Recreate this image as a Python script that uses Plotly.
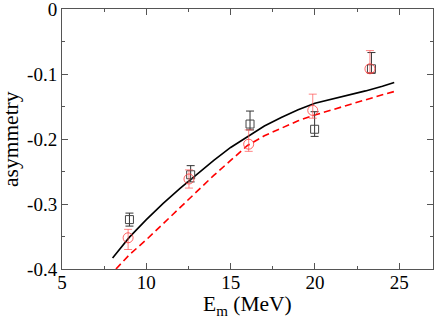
import plotly.graph_objects as go

# experimental points
sq_x = [9.0, 12.63, 16.15, 19.98, 23.35]
sq_y = [-0.324, -0.255, -0.177, -0.185, -0.092]
sq_err_plus = [0.010, 0.014, 0.020, 0.027, 0.025]
sq_err_minus = [0.010, 0.011, 0.009, 0.011, 0.007]

ci_x = [8.92, 12.53, 16.07, 19.87, 23.26]
ci_y = [-0.352, -0.2615, -0.208, -0.156, -0.092]
ci_err_plus = [0.013, 0.014, 0.022, 0.025, 0.028]
ci_err_minus = [0.018, 0.014, 0.011, 0.012, 0.006]

# theory curves
solid_x = [8.0, 9.0, 10.0, 11.0, 12.0, 13.0, 14.0, 15.0, 16.0, 17.0, 18.0, 19.0, 20.0, 21.0, 22.0, 23.0, 24.0, 24.7]
solid_y = [-0.383, -0.351, -0.324, -0.299, -0.276, -0.254, -0.233, -0.213, -0.197, -0.180, -0.167, -0.155, -0.145, -0.139, -0.133, -0.126, -0.119, -0.113]

dash_x = [8.2, 9.0, 10.0, 11.0, 12.0, 13.0, 14.0, 15.0, 16.0, 17.0, 18.0, 19.0, 20.0, 21.0, 22.0, 23.0, 24.0, 24.7]
dash_y = [-0.400, -0.378, -0.355, -0.330, -0.305, -0.281, -0.256, -0.233, -0.210, -0.195, -0.183, -0.172, -0.163, -0.155, -0.148, -0.140, -0.132, -0.127]

x_ticks = [5, 10, 15, 20, 25]
y_ticks = [0, -0.1, -0.2, -0.3, -0.4]
y_tick_text = ["0", "-0.1", "-0.2", "-0.3", "-0.4"]
x_title = "E<sub>m</sub> (MeV)"
y_title = "asymmetry"

fig = go.Figure()
fig.add_trace(go.Scatter(x=solid_x, y=solid_y, mode="lines",
                         line=dict(color="black", width=1.6), showlegend=False))
fig.add_trace(go.Scatter(x=dash_x, y=dash_y, mode="lines",
                         line=dict(color="red", width=1.6, dash="7px,4px"), showlegend=False))
fig.add_trace(go.Scatter(x=sq_x, y=sq_y, mode="markers",
                         marker=dict(symbol="square-open", size=8, color="#444",
                                     line=dict(width=1, color="#444")),
                         error_y=dict(type="data", symmetric=False, array=sq_err_plus,
                                      arrayminus=sq_err_minus, color="#333",
                                      thickness=1, width=4),
                         showlegend=False))
fig.add_trace(go.Scatter(x=ci_x, y=ci_y, mode="markers",
                         marker=dict(symbol="circle-open", size=10, color="rgba(255,60,60,0.8)",
                                     line=dict(width=1, color="rgba(255,60,60,0.8)")),
                         error_y=dict(type="data", symmetric=False, array=ci_err_plus,
                                      arrayminus=ci_err_minus, color="rgba(255,80,80,0.7)",
                                      thickness=1, width=4),
                         showlegend=False))

font_family = "Liberation Serif"
axis_common = dict(showgrid=False, zeroline=False, showline=True, linecolor="#555",
                   linewidth=1, mirror="allticks", ticks="inside", ticklen=6,
                   tickcolor="#555", tickwidth=1, automargin=False,
                   ticklabeloverflow="allow",
                   tickfont=dict(family=font_family, size=19, color="black"))

fig.update_xaxes(range=[5, 27], tickvals=x_ticks, ticktext=[str(v) for v in x_ticks],
                 minor=dict(ticks="inside", ticklen=3, tickcolor="#555", dtick=2.5, tick0=5),
                 ticklabelstandoff=-4,
                 **axis_common)
fig.update_yaxes(range=[-0.4, 0.0], tickvals=y_ticks, ticktext=y_tick_text,
                 minor=dict(ticks="inside", ticklen=3, tickcolor="#555", dtick=0.05, tick0=0),
                 **axis_common)

fig.add_annotation(text=x_title, xref="paper", yref="paper", x=0.5, y=0,
                   xanchor="center", yanchor="top", xshift=0, yshift=-21, showarrow=False,
                   font=dict(family=font_family, size=21.5, color="black"))
fig.add_annotation(text=y_title, xref="paper", yref="paper", x=0, y=0.5, textangle=-90,
                   xanchor="center", yanchor="middle", xshift=-51, showarrow=False,
                   borderpad=0,
                   font=dict(family=font_family, size=21.5, color="black"))

fig.update_layout(width=436, height=318, margin=dict(l=62, r=3, t=9, b=49),
                  plot_bgcolor="white", paper_bgcolor="white")
fig.write_html("out.html", config={"displayModeBar": False},
               post_script="document.body.style.margin='0';document.body.style.overflow='hidden';")
